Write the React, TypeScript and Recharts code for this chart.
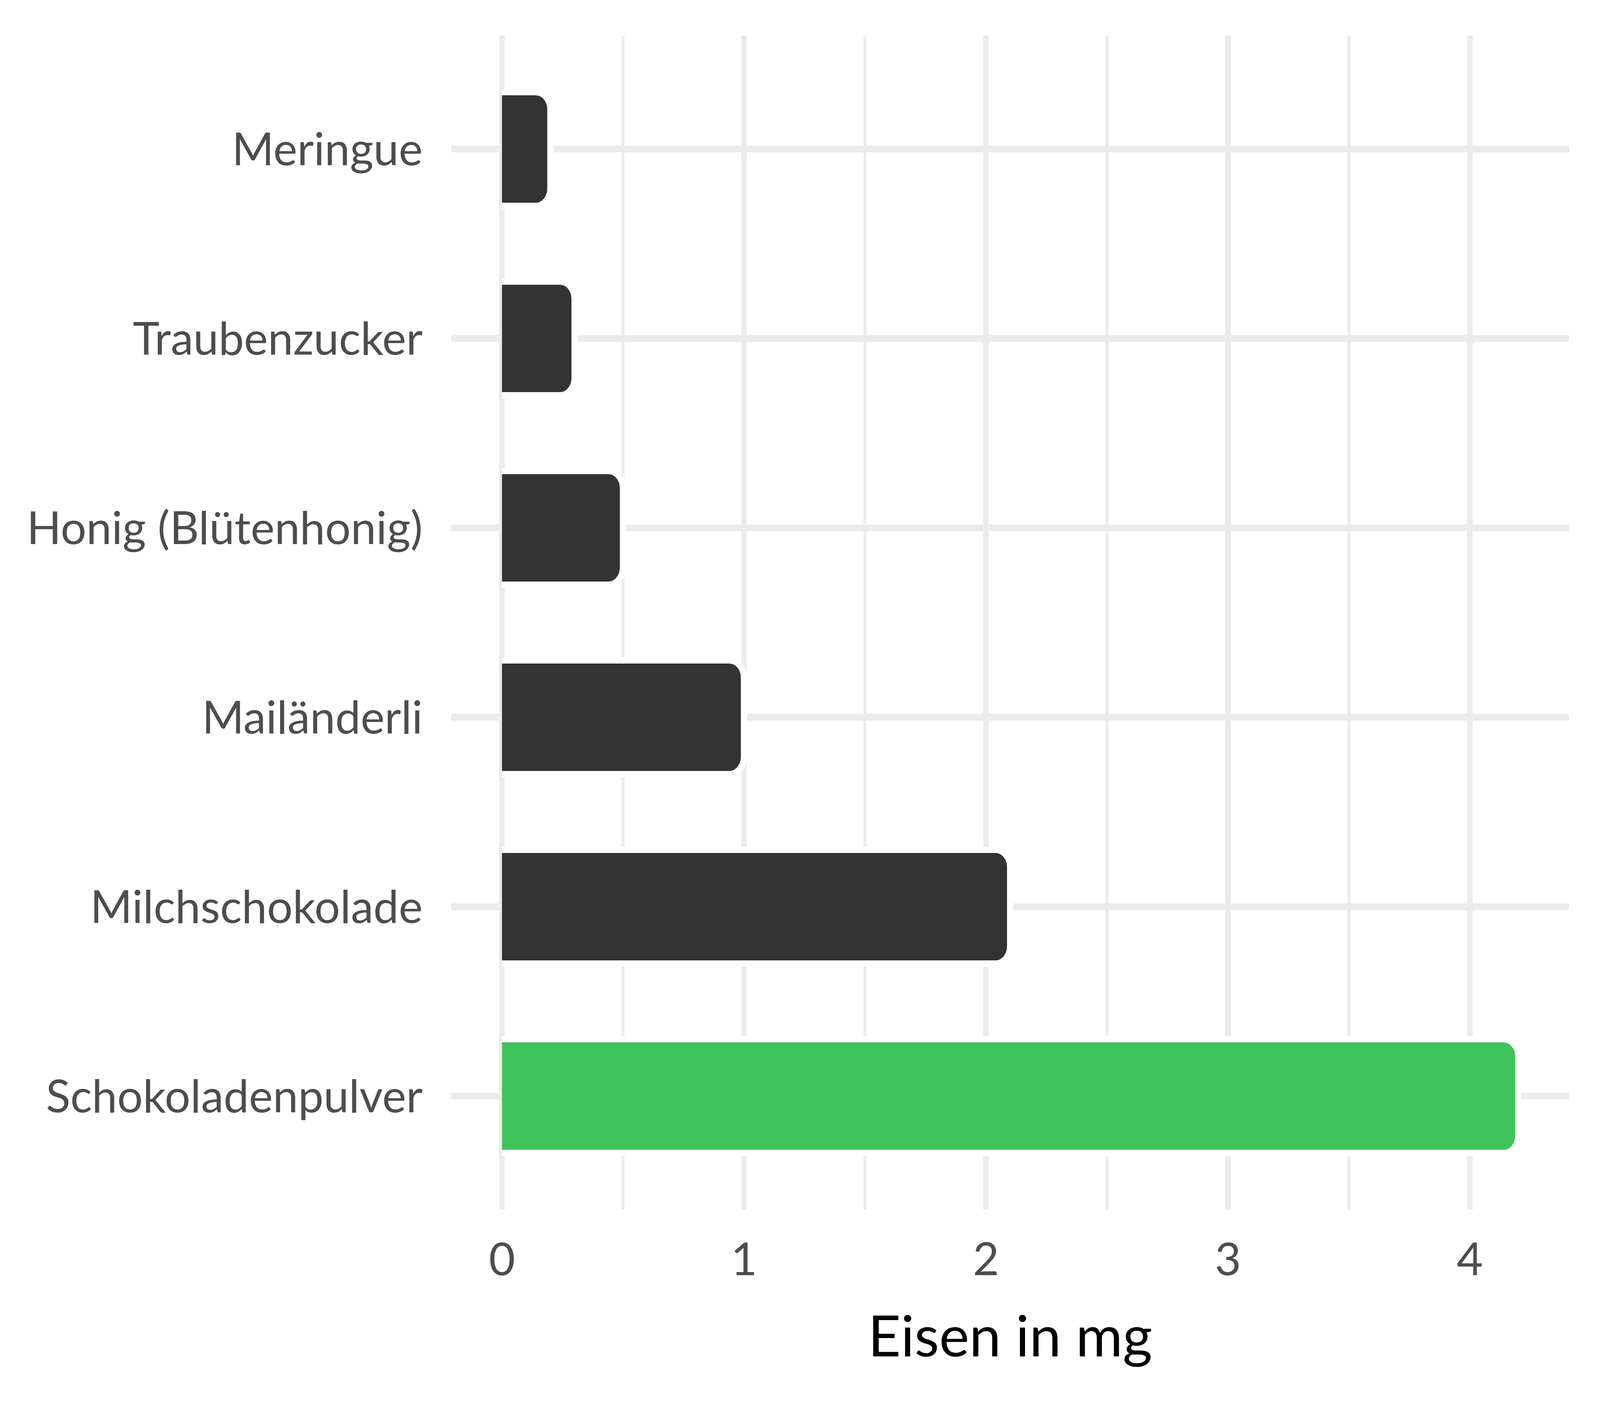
import React from 'react';
import { BarChart, Bar, XAxis, YAxis, CartesianGrid, Cell } from 'recharts';

const categories = ['Meringue', 'Traubenzucker', 'Honig (Blütenhonig)', 'Mailänderli', 'Milchschokolade', 'Schokoladenpulver'];
const eisenMg = [0.2, 0.3, 0.5, 1.0, 2.1, 4.2];
const highlighted = [false, false, false, false, false, true];
const xTicks = [0, 1, 2, 3, 4];
const xMinorTicks = [0.5, 1.5, 2.5, 3.5];
const xDomain: [number, number] = [-0.21, 4.41];
const axisTitle = 'Eisen in mg';

const data = categories.map((name, i) => ({ name, value: eisenMg[i], hl: highlighted[i] }));

// the browser viewport is 4096 px wide; horizontal geometry is scaled to fit it
const W = 4096;
const H = 3600;
const K = W / 4800;

const DARK = '#333333';
const GREEN = '#3EC35A';
const GRID = '#EBEBEB';
const FONT = 'Lato, "Open Sans", sans-serif';
const TICK_FS = 116;
const TITLE_FS = 146;

const BarShape = (props: any) => {
  const { x, y, width, height, fill } = props;
  const ry = Math.min(44, height / 2);
  const rx = Math.min(44 * K, width);
  const x2 = x + width;
  const d = `M${x},${y} H${x2 - rx} A${rx},${ry} 0 0 1 ${x2},${y + ry} V${y + height - ry} A${rx},${ry} 0 0 1 ${x2 - rx},${y + height} H${x}`;
  return (
    <g>
      <path d={d + ' Z'} fill={fill} />
      <path d={d} fill="none" stroke="#FFFFFF" strokeWidth={16} />
    </g>
  );
};

export default function App() {
  return (
    <div style={{ position: 'absolute', left: 0, top: 0, width: W, height: H, background: '#fff' }}>
      <BarChart
        width={W}
        height={H}
        data={data}
        layout="vertical"
        margin={{ top: 91, right: W - Math.round(4708 * K), bottom: 0, left: 0 }}
        style={{ fontFamily: FONT }}
      >
        <CartesianGrid xAxisId="minor" horizontal={false} syncWithTicks stroke={GRID} strokeWidth={8.5 * K} />
        <CartesianGrid vertical={false} syncWithTicks stroke={GRID} strokeWidth={17} />
        <CartesianGrid horizontal={false} syncWithTicks stroke={GRID} strokeWidth={17 * K} />
        <XAxis
          xAxisId="minor"
          type="number"
          domain={xDomain}
          allowDataOverflow
          ticks={xMinorTicks}
          orientation="top"
          height={0}
          hide
        />
        <XAxis
          type="number"
          domain={xDomain}
          allowDataOverflow
          ticks={xTicks}
          height={503}
          axisLine={false}
          tickLine={false}
          tickSize={0}
          tickMargin={86}
          tick={{ fontSize: TICK_FS, fill: '#4D4D4D', fontFamily: FONT }}
          label={{ value: axisTitle, position: 'insideBottom', offset: 127, fontSize: TITLE_FS, fill: '#000000', fontFamily: FONT }}
        />
        <YAxis
          type="category"
          dataKey="name"
          width={Math.round(1353 * K)}
          padding={{ top: 48, bottom: 48 }}
          axisLine={false}
          tickLine={false}
          tickSize={0}
          tickMargin={Math.round(85 * K)}
          interval={0}
          tick={{ fontSize: TICK_FS, fill: '#4D4D4D', fontFamily: FONT }}
        />
        <Bar dataKey="value" barSize={291} shape={BarShape} isAnimationActive={false}>
          {data.map((d, i) => (
            <Cell key={i} fill={d.hl ? GREEN : DARK} />
          ))}
        </Bar>
      </BarChart>
    </div>
  );
}
